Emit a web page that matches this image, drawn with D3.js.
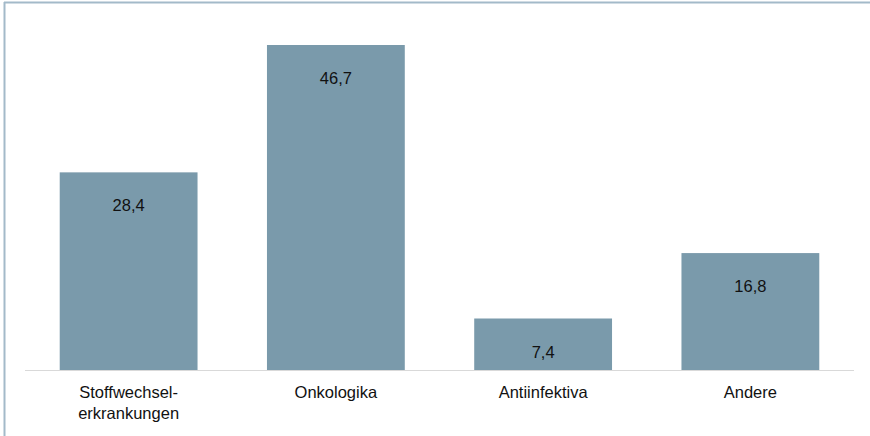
<!DOCTYPE html>
<html>
<head>
<meta charset="utf-8">
<script src="https://cdn.jsdelivr.net/npm/d3@7"></script>
<style>
  body { margin: 0; background: #fff; }
  svg { display: block; }
</style>
</head>
<body>
<script>
const categories = [["Stoffwechsel-", "erkrankungen"], ["Onkologika"], ["Antiinfektiva"], ["Andere"]];
const values = [28.4, 46.7, 7.4, 16.8];
const valueLabels = ["28,4", "46,7", "7,4", "16,8"];

const width = 870;
const height = 436;
const baseline = 370;

const svg = d3.select("body").append("svg")
  .attr("width", width)
  .attr("height", height);

// frame: top and left edge only
svg.append("line")
  .attr("x1", 4).attr("x2", width).attr("y1", 2.5).attr("y2", 2.5)
  .attr("stroke", "#a3bac9").attr("stroke-width", 2);
svg.append("line")
  .attr("x1", 4.5).attr("x2", 4.5).attr("y1", 2).attr("y2", height)
  .attr("stroke", "#a3bac9").attr("stroke-width", 2);

const keys = categories.map((c) => c.join(" "));

const xScale = d3.scaleBand()
  .domain(keys)
  .range([25, 854])
  .paddingInner(0.335)
  .paddingOuter(0.1675);

const yScale = d3.scaleLinear()
  .domain([0, 46.7])
  .range([baseline, 45]);

const bars = svg.append("g")
  .selectAll("g")
  .data(values)
  .enter()
  .append("g");

bars.append("rect")
  .attr("x", (d, i) => xScale(keys[i]))
  .attr("y", (d) => yScale(d))
  .attr("width", xScale.bandwidth())
  .attr("height", (d) => baseline - yScale(d))
  .attr("fill", "#7a9aab");

bars.append("text")
  .attr("x", (d, i) => xScale(keys[i]) + xScale.bandwidth() / 2)
  .attr("y", (d) => yScale(d) + 39)
  .attr("text-anchor", "middle")
  .attr("font-family", "Liberation Sans, Arial, sans-serif")
  .attr("font-size", 16.5)
  .attr("fill", "#111")
  .text((d, i) => valueLabels[i]);

// baseline
svg.append("line")
  .attr("x1", 25).attr("x2", 854)
  .attr("y1", baseline + 0.5).attr("y2", baseline + 0.5)
  .attr("stroke", "#d9d9d9").attr("stroke-width", 1);

const labels = svg.append("g")
  .selectAll("text")
  .data(categories)
  .enter()
  .append("text")
  .attr("x", (d, i) => xScale(keys[i]) + xScale.bandwidth() / 2)
  .attr("y", 398)
  .attr("text-anchor", "middle")
  .attr("font-family", "Liberation Sans, Arial, sans-serif")
  .attr("font-size", 16.5)
  .attr("fill", "#111");

labels.selectAll("tspan")
  .data((d) => d)
  .enter()
  .append("tspan")
  .attr("x", function () { return d3.select(this.parentNode).attr("x"); })
  .attr("dy", (d, i) => (i === 0 ? 0 : 21))
  .text((d) => d);
</script>
</body>
</html>
